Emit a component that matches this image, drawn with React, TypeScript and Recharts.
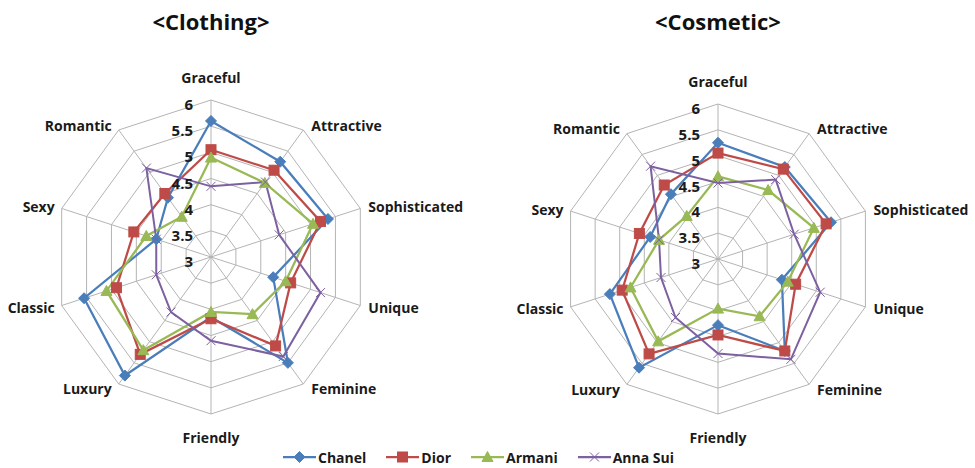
import React from "react";
import {
    PolarAngleAxis,
    PolarGrid,
    PolarRadiusAxis,
    Radar,
    RadarChart,
} from "recharts";

const traits = ["Graceful", "Attractive", "Sophisticated", "Unique", "Feminine", "Friendly", "Luxury", "Classic", "Sexy", "Romantic"];
const scaleDomain = [3, 6];
const scaleTicks = [3, 3.5, 4, 4.5, 5, 5.5, 6];

const brands = ["Chanel", "Dior", "Armani", "Anna Sui"];
const brandColors = ["#4a7ebb", "#be4b48", "#98b954", "#7d60a0"];

// <Clothing>
const clothingChanel = [5.6, 5.25, 5.35, 4.25, 5.5, 4.15, 5.8, 5.55, 4.1, 4.4];
const clothingDior = [5.05, 5.05, 5.2, 4.6, 5.1, 4.18, 5.3, 4.9, 4.55, 4.5];
const clothingArmani = [4.9, 4.75, 5.05, 4.5, 4.35, 4.05, 5.2, 5.1, 4.3, 3.95];
const clothingAnnaSui = [4.35, 4.77, 4.37, 5.2, 5.35, 4.6, 4.3, 4.1, 4.1, 5.1];

// <Cosmetic>
const cosmeticChanel = [5.25, 5.2, 5.3, 4.3, 5.2, 4.28, 5.6, 5.2, 4.38, 4.55];
const cosmeticDior = [5.05, 5.15, 5.2, 4.58, 5.2, 4.47, 5.27, 4.95, 4.6, 4.77];
const cosmeticArmani = [4.6, 4.65, 4.95, 4.42, 4.37, 3.96, 4.97, 4.78, 4.2, 4.03];
const cosmeticAnnaSui = [4.47, 4.9, 4.55, 5.08, 5.4, 4.83, 4.4, 4.16, 4.2, 5.22];

const FONT = "'Open Sans', sans-serif";

function buildRows(series: number[][]) {
    return traits.map((t, i) => {
        const row: any = { trait: t };
        brands.forEach((b, j) => {
            row[b] = series[j][i];
        });
        return row;
    });
}

function Marker({ kind, x, y, color }: { kind: number; x: number; y: number; color: string }) {
    if (kind === 0) {
        const s = 5.5;
        return <polygon points={`${x},${y - s} ${x + s},${y} ${x},${y + s} ${x - s},${y}`} fill={color} stroke={color} />;
    }
    if (kind === 1) {
        return <rect x={x - 5} y={y - 5} width={10} height={10} fill={color} stroke={color} />;
    }
    if (kind === 2) {
        return <polygon points={`${x},${y - 5.5} ${x + 5.5},${y + 4.5} ${x - 5.5},${y + 4.5}`} fill={color} stroke={color} />;
    }
    return (
        <g stroke={color} strokeWidth={1}>
            <line x1={x - 4.5} y1={y - 4.5} x2={x + 4.5} y2={y + 4.5} />
            <line x1={x - 4.5} y1={y + 4.5} x2={x + 4.5} y2={y - 4.5} />
        </g>
    );
}

function Spider({ title, series, cx, cy, radius, width }: { title: string; series: number[][]; cx: number; cy: number; radius: number; width: number }) {
    const data = buildRows(series);

    const angleTick = (props: any) => {
        const i = props.index;
        const a = ((90 - i * 36) * Math.PI) / 180;
        const ux = Math.cos(a);
        const uy = -Math.sin(a);
        let x, y, anchor;
        if (Math.abs(ux) < 0.1) {
            x = cx;
            y = cy + uy * (radius + 23);
            anchor = "middle";
        } else {
            x = cx + ux * radius + (ux > 0 ? 8 : -7);
            y = cy + uy * radius + uy * 6;
            anchor = ux > 0 ? "start" : "end";
        }
        return (
            <text x={x} y={y} textAnchor={anchor} dominantBaseline="central" fontFamily={FONT} fontWeight="bold" fontSize={14} fill="#1a1a1a">
                {props.payload.value}
            </text>
        );
    };

    const radiusTick = (props: any) => (
        <text x={props.x - 18} y={props.y + 4} textAnchor="end" dominantBaseline="central" fontFamily={FONT} fontWeight="bold" fontSize={15} fill="#1a1a1a">
            {props.payload.value}
        </text>
    );

    return (
        <div style={{ position: "relative", width, height: 468 }}>
            <div style={{ position: "absolute", left: cx - 100, width: 200, top: 6, textAlign: "center", fontFamily: FONT, fontWeight: "bold", fontSize: 22, color: "#111" }}>
                {title}
            </div>
            <RadarChart width={width} height={468} data={data} cx={cx} cy={cy} outerRadius={radius} style={{ position: "absolute", left: 0, top: 0 }}>
                <PolarGrid gridType="polygon" stroke="#b4b4b4" strokeWidth={1} />
                <PolarAngleAxis dataKey="trait" tick={angleTick} tickLine={false} axisLine={false} />
                <PolarRadiusAxis
                    angle={90}
                    type="number"
                    domain={scaleDomain}
                    ticks={scaleTicks as any}
                    tickCount={7}
                    tick={radiusTick}
                    axisLine={false}
                    tickLine={false}
                />
                {brands.map((b, j) => (
                    <Radar
                        key={b}
                        dataKey={b}
                        stroke={brandColors[j]}
                        strokeWidth={j === 3 ? 2 : 2.25}
                        fill="none"
                        fillOpacity={0}
                        isAnimationActive={false}
                        dot={(p: any) => <Marker key={`${b}-${p.index}`} kind={j} x={p.cx} y={p.cy} color={brandColors[j]} />}
                    />
                ))}
            </RadarChart>
        </div>
    );
}

function LegendRow() {
    return (
        <div style={{ position: "absolute", left: 283, top: 447, display: "flex", gap: 20, alignItems: "center", fontFamily: FONT, fontWeight: "bold", fontSize: 14, color: "#1a1a1a" }}>
            {brands.map((b, j) => (
                <div key={b} style={{ display: "flex", alignItems: "center" }}>
                    <svg width={33} height={20}>
                        <line x1={0} y1={10} x2={33} y2={10} stroke={brandColors[j]} strokeWidth={2.25} />
                        <Marker kind={j} x={16.5} y={10} color={brandColors[j]} />
                    </svg>
                    <span style={{ marginLeft: 2 }}>{b}</span>
                </div>
            ))}
        </div>
    );
}

export default function App() {
    return (
        <div style={{ position: "relative", width: 975, height: 468, background: "#fff", overflow: "hidden" }}>
            <style>{"body{margin:0}"}</style>
            <div style={{ position: "absolute", left: 0, top: 0 }}>
                <Spider title="<Clothing>" series={[clothingChanel, clothingDior, clothingArmani, clothingAnnaSui]} cx={211} cy={257} radius={157} width={487} />
            </div>
            <div style={{ position: "absolute", left: 487, top: 0 }}>
                <Spider title="<Cosmetic>" series={[cosmeticChanel, cosmeticDior, cosmeticArmani, cosmeticAnnaSui]} cx={231} cy={259} radius={155} width={488} />
            </div>
            <LegendRow />
        </div>
    );
}
